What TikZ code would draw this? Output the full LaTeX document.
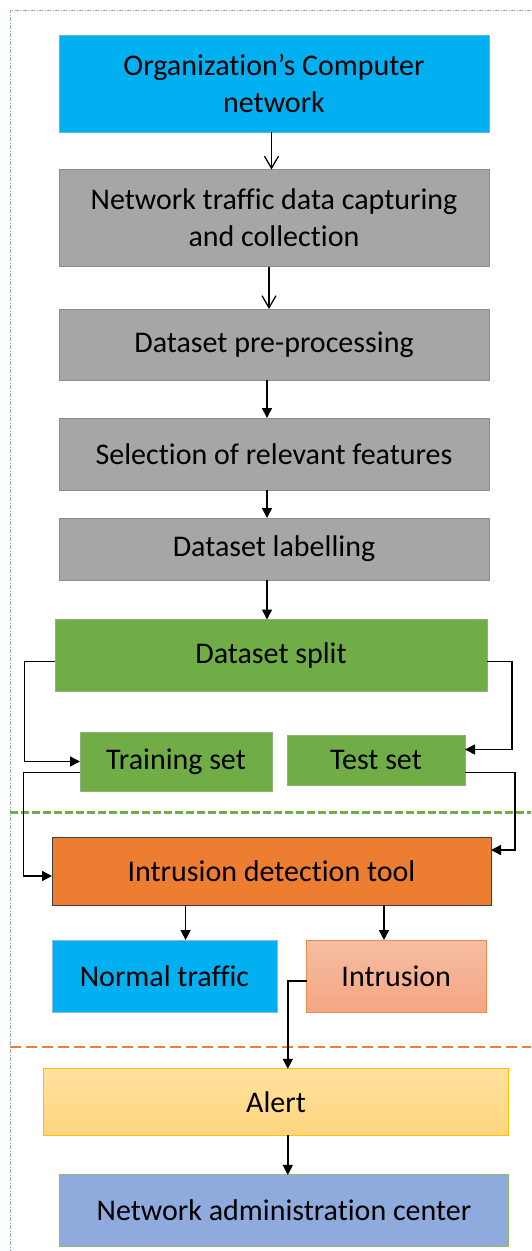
\documentclass[tikz,border=0pt]{standalone}
\usepackage{fontspec}
\setmainfont[RawFeature={-liga}]{Carlito}
\usetikzlibrary{arrows.meta,calc}
\definecolor{cyanF}{HTML}{00B0F0}
\definecolor{cyanD}{HTML}{5B9BD5}
\definecolor{grayF}{HTML}{A6A6A6}
\definecolor{grayD}{HTML}{8C8C8C}
\definecolor{greenF}{HTML}{70AD47}
\definecolor{greenD}{HTML}{5E9640}
\definecolor{orangeF}{HTML}{ED7D31}
\definecolor{darkD}{HTML}{404040}
\definecolor{normD}{HTML}{8EB4E3}
\definecolor{intrT}{HTML}{F6BDA3}
\definecolor{intrB}{HTML}{F4A682}
\definecolor{intrD}{HTML}{F08A4B}
\definecolor{alertT}{HTML}{FFE29E}
\definecolor{alertB}{HTML}{FFD57E}
\definecolor{alertD}{HTML}{FFC000}
\definecolor{nacF}{HTML}{8FAADC}
\definecolor{nacD}{HTML}{8CC168}
\definecolor{frameC}{HTML}{8EAAD0}
\definecolor{orangeDash}{HTML}{ED7D31}
\begin{document}
\begin{tikzpicture}[x=1pt,y=-1pt,
  font=\fontsize{30}{37}\selectfont,
  box/.style={rectangle, inner sep=0pt, outer sep=0pt, line width=1pt, align=center, text=black},
  arr/.style={-{Triangle[length=10pt,width=10pt]}, line width=1.5pt, black},
  openarr/.style={-{Straight Barb[length=12pt,width=14pt,line width=1.3pt]}, line width=1.3pt, black},
  elbow/.style={-{Triangle[length=10pt,width=10pt]}, line width=1.5pt, black}]
\useasboundingbox (0,0) rectangle (531,1251);
% frame
\coordinate (fr1) at (531,10);
\coordinate (fr2) at (10,10);
\coordinate (fr3) at (10,1251);
\draw[frameC, line width=0.8pt, dash pattern=on 4pt off 1.5pt on 1pt off 1.5pt] (fr1) -- (fr2) -- (fr3);
% separators
\coordinate (g1) at (10,812);
\coordinate (g2) at (531,812);
\draw[greenF, line width=3pt, dash pattern=on 7.5pt off 3.5pt] (g1) -- (g2);
\coordinate (o1) at (10,1046.8);
\coordinate (o2) at (531,1046.8);
\draw[orangeDash, line width=1.6pt, dash pattern=on 11pt off 5pt] (o1) -- (o2);
% nodes
\node[box, fill=cyanF, draw=cyanF!80!black!60, minimum width=430pt, minimum height=97pt] (org) at (274,83.5) {Organization’s Computer\\network};
\node[box, fill=grayF, draw=grayD, minimum width=430pt, minimum height=97pt] (traffic) at (274,218) {Network traffic data capturing\\and collection};
\node[box, fill=grayF, draw=grayD, minimum width=430pt, minimum height=71pt] (prep) at (274,344.5) {Dataset pre-processing};
\node[box, fill=grayF, draw=grayD, minimum width=430pt, minimum height=72pt] (sel) at (274,454) {Selection of relevant features};
\node[box, fill=grayF, draw=grayD, minimum width=430pt, minimum height=62pt] (lab) at (274,549) {Dataset labelling};
\node[box, fill=greenF, draw=greenD!70, minimum width=432pt, minimum height=72pt] (split) at (271,655.5) {Dataset split};
\node[box, fill=greenF, draw=greenD!70, minimum width=192pt, minimum height=59pt] (train) at (176,761.5) {Training set};
\node[box, fill=greenF, draw=greenD!70, minimum width=178pt, minimum height=50pt] (test) at (376,760) {Test set};
\node[box, fill=orangeF, draw=darkD, minimum width=439pt, minimum height=68pt] (idt) at (271.5,871) {Intrusion detection tool};
\node[box, fill=cyanF, draw=normD, minimum width=225pt, minimum height=72.6pt] (normal) at (164.5,976.3) {Normal traffic};
\node[box, top color=intrT, bottom color=intrB, draw=intrD, minimum width=179.5pt, minimum height=72.6pt] (intr) at (396.25,976.3) {Intrusion};
\node[box, top color=alertT, bottom color=alertB, draw=alertD, minimum width=465.3pt, minimum height=66.2pt] (alert) at (276,1101.9) {Alert};
\node[box, fill=nacF, draw=nacD, minimum width=449.3pt, minimum height=71.3pt] (nac) at (284,1210.6) {Network administration center};
% x positions of vertical connectors
\coordinate (xa) at (271.5,0);
\coordinate (xb) at (269,0);
\coordinate (xc) at (267,0);
\coordinate (xd) at (185.6,0);
\coordinate (xe) at (384,0);
\coordinate (xf) at (287.8,0);
% connectors
\draw[openarr] (org.south -| xa) -- (traffic.north -| xa);
\draw[openarr] (traffic.south -| xb) -- (prep.north -| xb);
\draw[arr] (prep.south -| xc) -- (sel.north -| xc);
\draw[arr] (sel.south -| xc) -- (lab.north -| xc);
\draw[arr] (lab.south -| xc) -- (split.north -| xc);
\draw[elbow] ($(split.west)+(0,6)$) -- ++(-30.6,0) |- (train.west);
\draw[elbow] ($(split.east)+(0,6)$) -- ++(25,0) |- ($(test.east)+(0,-10.5)$);
\draw[elbow] ($(train.west)+(0,11)$) -- ++(-56.3,0) |- ($(idt.west)+(0,5)$);
\draw[elbow] ($(test.east)+(0,12.5)$) -- ++(50,0) |- ($(idt.east)+(0,-21)$);
\draw[arr] (idt.south -| xd) -- (normal.north -| xd);
\draw[arr] (idt.south -| xe) -- (intr.north -| xe);
\draw[arr] ($(intr.west)+(0,4.5)$) -| (alert.north -| xf);
\draw[arr] (alert.south -| xf) -- (nac.north -| xf);
\end{tikzpicture}
\end{document}
